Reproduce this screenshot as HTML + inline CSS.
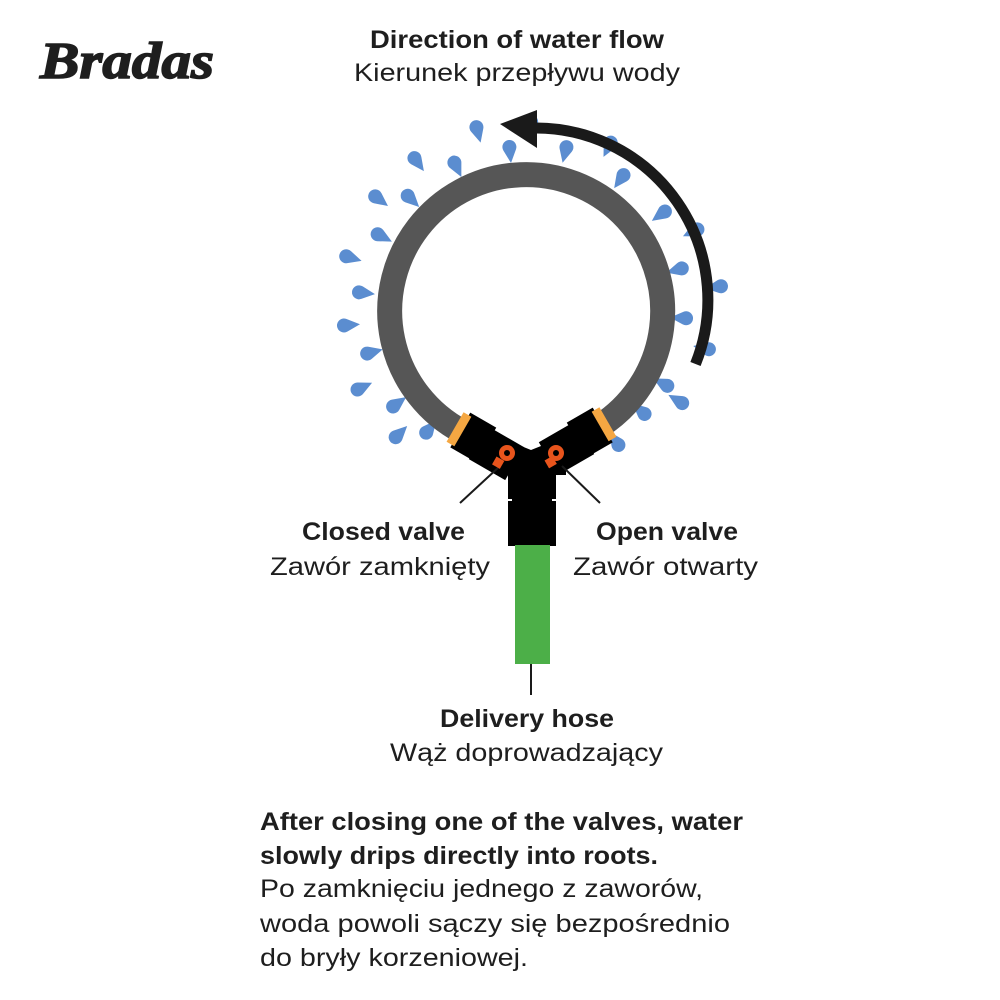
<!DOCTYPE html>
<html><head><meta charset="utf-8"><style>
html,body{margin:0;padding:0;background:#fff;width:1000px;height:1000px;overflow:hidden}
svg{display:block}
text{font-family:"Liberation Sans",sans-serif;fill:#1e1e1e}
.b{font-weight:bold}
</style></head><body>
<svg id="s" width="1000" height="1000" viewBox="0 0 1000 1000" xmlns="http://www.w3.org/2000/svg">
<text x="40" y="78" font-style="italic" font-weight="bold" font-size="52" textLength="174" lengthAdjust="spacingAndGlyphs" stroke="#1e1e1e" stroke-width="1.5" style="font-family:'Liberation Serif',serif">Bradas</text>

<text class="b" x="370" y="48" font-size="25" textLength="294" lengthAdjust="spacingAndGlyphs">Direction of water flow</text>
<text x="354" y="81" font-size="25" textLength="326" lengthAdjust="spacingAndGlyphs">Kierunek przepływu wody</text>

<g id="drops" fill="#5b8dd0"></g>

<path d="M 600.3 425.7 A 136.5 136.5 0 1 0 461.9 431.5" fill="none" stroke="#565656" stroke-width="25"/>

<path d="M 695.5 364 A 172 172 0 0 0 532 128" fill="none" stroke="#1a1a1a" stroke-width="11"/>
<polygon points="500,124 537,110 537,148" fill="#1a1a1a"/>

<g transform="translate(462,431) rotate(30)">
  <rect x="-2" y="-20" width="30" height="40" fill="#000"/>
  <rect x="20" y="-17" width="42" height="38" fill="#000"/>
  <rect x="-8" y="-17" width="9" height="34" fill="#f5a742"/>
</g>
<g transform="translate(601,426) rotate(150)">
  <rect x="-2" y="-20" width="30" height="40" fill="#000"/>
  <rect x="20" y="-21" width="42" height="38" fill="#000"/>
  <rect x="-8" y="-17" width="9" height="34" fill="#f5a742"/>
</g>
<polygon points="496,436 531,450 566,436 566,475 496,475" fill="#000"/>
<rect x="508" y="455" width="48" height="91" fill="#000"/>
<rect x="508" y="499" width="4" height="2" fill="#fff"/>
<rect x="552" y="499" width="4" height="2" fill="#fff"/>
<rect x="515" y="545" width="35" height="119" fill="#4caf48"/>

<line x1="500" y1="466" x2="460" y2="503" stroke="#1a1a1a" stroke-width="2"/>
<line x1="562" y1="466" x2="600" y2="503" stroke="#1a1a1a" stroke-width="2"/>
<g fill="#e8541c">
  <circle cx="507" cy="453" r="8"/><rect x="494" y="458" width="9" height="9" transform="rotate(30 498 462)"/>
  <circle cx="556" cy="453" r="8"/><rect x="546" y="458" width="9" height="9" transform="rotate(-30 550 462)"/>
</g>
<circle cx="507" cy="453" r="3" fill="#000"/>
<circle cx="556" cy="453" r="3" fill="#000"/>

<line x1="531" y1="664" x2="531" y2="695" stroke="#1a1a1a" stroke-width="2"/>

<text class="b" x="302" y="540" font-size="25" textLength="163" lengthAdjust="spacingAndGlyphs">Closed valve</text>
<text x="270" y="575" font-size="25" textLength="220" lengthAdjust="spacingAndGlyphs">Zawór zamknięty</text>
<text class="b" x="596" y="540" font-size="25" textLength="142" lengthAdjust="spacingAndGlyphs">Open valve</text>
<text x="573" y="575" font-size="25" textLength="185" lengthAdjust="spacingAndGlyphs">Zawór otwarty</text>
<text class="b" x="440" y="727" font-size="25" textLength="174" lengthAdjust="spacingAndGlyphs">Delivery hose</text>
<text x="390" y="761" font-size="25" textLength="273" lengthAdjust="spacingAndGlyphs">Wąż doprowadzający</text>

<text class="b" x="260" y="830" font-size="25" textLength="483" lengthAdjust="spacingAndGlyphs">After closing one of the valves, water</text>
<text class="b" x="260" y="864" font-size="25" textLength="398" lengthAdjust="spacingAndGlyphs">slowly drips directly into roots.</text>
<text x="260" y="897" font-size="25" textLength="443" lengthAdjust="spacingAndGlyphs">Po zamknięciu jednego z zaworów,</text>
<text x="260" y="932" font-size="25" textLength="470" lengthAdjust="spacingAndGlyphs">woda powoli sączy się bezpośrednio</text>
<text x="260" y="966" font-size="25" textLength="268" lengthAdjust="spacingAndGlyphs">do bryły korzeniowej.</text>
</svg>
<script>
var pts=[[478,133],[418,163],[457,168],[510,153],[565,153],[608,148],[380,200],[412,200],[620,180],[660,215],[383,237],[692,232],[352,258],[365,293],[676,270],[715,287],[350,325],[680,318],[373,352],[703,348],[363,387],[662,383],[677,400],[398,403],[640,410],[400,433],[430,428],[615,440],[531,128]];
var g=document.getElementById('drops'),cx=526,cy=311,h='';
pts.forEach(function(p){var a=Math.atan2(cy-p[1],cx-p[0])*180/Math.PI;
h+='<path transform="translate('+p[0]+','+p[1]+') rotate('+a.toFixed(1)+')" d="M-3,-6.3 A7,7 0 1 0 -3,6.3 L10,0 Z"/>';});
g.innerHTML=h;
</script>
</body></html>
